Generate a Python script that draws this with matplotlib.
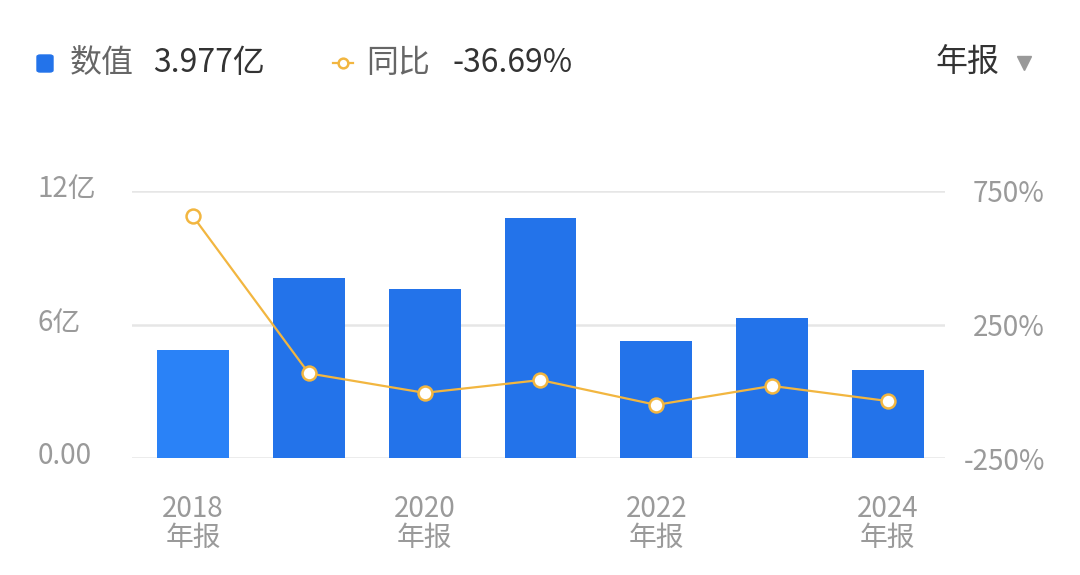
import matplotlib
matplotlib.use("Agg")
import matplotlib.pyplot as plt
import matplotlib.transforms as mtransforms
from matplotlib.patches import FancyBboxPatch
from matplotlib.lines import Line2D

plt.rcParams['font.family'] = ['Noto Sans CJK SC', 'DejaVu Sans']

# data
years = ['2018', '2019', '2020', '2021', '2022', '2023', '2024']
values = [4.85, 8.1, 7.6, 10.8, 5.25, 6.3, 3.977]      # 亿
yoy = [655, 67, -6, 42, -51, 20, -36.69]               # %
x_labels = ['2018\n年报', '', '2020\n年报', '', '2022\n年报', '', '2024\n年报']
left_ticks = [0, 6, 12]
left_tick_labels = ['0.00', '6亿', '12亿']
right_ticks = [-250, 250, 750]
right_tick_labels = ['-250%', '250%', '750%']

bar_colors = ['#2a82f7'] + ['#2373ea'] * 6
line_color = '#f2b640'
grid_color = '#e6e6e6'
tick_color = '#9a9a9a'

W, H = 1080, 575
fig = plt.figure(figsize=(W / 100, H / 100), dpi=100)
ax = fig.add_axes([132 / W, 1 - 458 / H, 813 / W, 267 / H])
ax2 = ax.twinx()

xs = list(range(len(years)))
ax.bar(xs, values, width=0.62, color=bar_colors, zorder=2)
ax.set_xlim(-0.527, 6.494)
ax.set_ylim(0, 12)
ax.set_yticks(left_ticks)
ax.set_yticklabels(left_tick_labels)
for y in left_ticks:
    ax.axhline(y, color=grid_color, lw=1.8, zorder=1)

ax2.plot(xs, yoy, color=line_color, lw=1.6, marker='o', markersize=10,
         markerfacecolor='white', markeredgecolor=line_color, markeredgewidth=1.8,
         zorder=3)
ax2.set_ylim(-250, 750)
ax2.set_yticks(right_ticks)
ax2.set_yticklabels(right_tick_labels)

ax.set_xticks(xs)
ax.set_xticklabels(x_labels, linespacing=0.95)

for a in (ax, ax2):
    for s in a.spines.values():
        s.set_visible(False)
ax.tick_params(axis='x', length=0, pad=26, labelsize=20, labelcolor=tick_color)
ax.tick_params(axis='y', length=0, pad=68, labelsize=20, labelcolor=tick_color)
up = mtransforms.ScaledTranslation(0, 5 / 100, fig.dpi_scale_trans)
for lab in ax.get_yticklabels():
    lab.set_horizontalalignment('left')
    lab.set_transform(lab.get_transform() + up)
ax2.tick_params(axis='y', length=0, pad=72, labelsize=20, labelcolor=tick_color)
for lab in ax2.get_yticklabels():
    lab.set_horizontalalignment('right')

# legend / header row
ty = 1 - 63 / H
fig.patches.append(FancyBboxPatch((37 / W, 1 - 72 / H), 16 / W, 17 / H,
                                  boxstyle='round,pad=0,rounding_size=0.003',
                                  transform=fig.transFigure, color='#2373ea'))
fig.text(70 / W, ty, '数值', fontsize=23, color='#666666', va='center')
fig.text(153 / W, ty, '3.977亿', fontsize=23, color='#333333', va='center')
fig.add_artist(Line2D([333 / W, 353 / W], [ty, ty], transform=fig.transFigure,
                      color=line_color, lw=1.6))
fig.add_artist(Line2D([343 / W], [ty], transform=fig.transFigure, marker='o',
                      markersize=7, markerfacecolor='white',
                      markeredgecolor=line_color, markeredgewidth=1.8))
fig.text(366 / W, ty, '同比', fontsize=23, color='#666666', va='center')
fig.text(452 / W, ty, '-36.69%', fontsize=23, color='#333333', va='center')
fig.text(935 / W, ty, '年报', fontsize=23, color='#333333', va='center')
fig.add_artist(Line2D([1024 / W], [ty], transform=fig.transFigure, marker='v',
                      markersize=10, color='#999999', linestyle='none'))

fig.savefig('out.png', dpi=100, facecolor='white')
